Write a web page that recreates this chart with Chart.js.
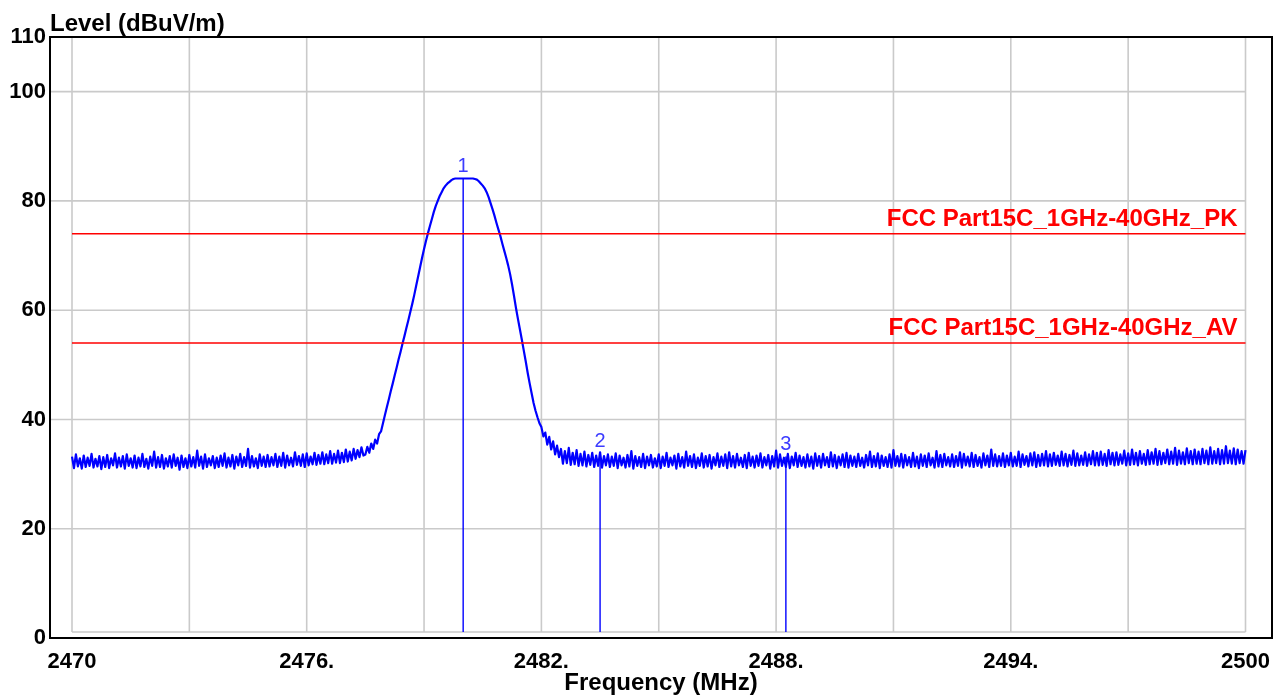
<!DOCTYPE html>
<html><head><meta charset="utf-8">
<script src="https://cdn.jsdelivr.net/npm/chart.js@4/dist/chart.umd.min.js"></script>
<style>html,body{margin:0;padding:0;background:#fff;}canvas{display:block;}</style>
</head><body>
<canvas id="c" width="1287" height="698"></canvas>
<script>
// ---- data ----
const freqStep = 0.05;
const segmentStarts = [2470.0, 2477.5, 2482.5];
const levelNoiseLow = [
33.2,31.1,33.6,31.4,32.9,31.0,33.4,31.3,33.0,31.5,33.7,31.2,32.8,31.4,33.3,30.9,33.1,31.3,33.5,31.1,32.9,31.6,33.8,31.2,33.0,
31.4,33.3,31.0,33.6,31.5,32.9,31.2,33.4,31.1,33.0,31.4,33.7,31.3,32.8,31.0,33.2,31.5,34.1,31.2,33.1,31.3,33.5,31.0,32.9,31.4,
33.3,31.2,33.6,31.5,33.0,30.8,33.4,31.3,32.9,31.1,33.5,31.4,33.1,31.2,34.3,31.5,33.2,31.0,33.6,31.3,32.9,31.6,33.3,31.1,33.0,
31.3,33.4,31.5,33.8,31.2,33.0,31.4,33.5,31.0,33.2,31.6,33.7,31.3,33.1,31.5,34.6,31.2,33.3,31.4,32.9,31.1,33.6,31.5,33.2,31.3,
33.5,31.4,33.1,31.6,33.7,31.3,33.2,31.5,33.9,31.2,33.4,31.6,33.0,31.4,34.0,31.7,33.3,31.5,33.6,31.3,33.8,31.6,33.2,31.8,33.9,
31.7,33.5,31.9,34.0,31.8,33.6,32.0,34.2,31.9,33.7,32.1,34.3,32.0,33.9,32.2,34.5,32.3,34.1,32.5,34.6,32.8,34.4,33.1,34.9,33.4
];
const levelSignal = [
33.6,35.0,33.9,35.6,34.6,36.3,35.6,37.3,37.8,39.3,
40.8,42.3,43.7,45.2,46.6,48.1,49.5,51.0,52.4,53.9,
55.3,56.8,58.2,59.7,61.2,62.8,64.5,66.2,67.9,69.6,
71.2,72.7,74.1,75.4,76.7,78.0,79.1,80.0,80.9,81.6,
82.3,82.8,83.2,83.5,83.8,84.0,84.1,84.1,84.1,84.1,
84.1,84.1,84.1,84.1,84.1,84.1,84.0,83.9,83.6,83.2,
82.8,82.3,81.6,80.7,79.6,78.5,77.3,76.0,74.8,73.6,
72.2,70.9,69.6,68.2,66.6,64.7,62.6,60.4,58.4,56.5,
54.6,52.6,50.6,48.5,46.6,44.8,43.0,41.6,40.4,39.3,
38.6,36.9,37.6,35.4,36.8,34.5,36.0,33.6,35.2,33.1
];
const levelNoiseHigh = [
34.6,31.9,34.2,32.0,34.8,31.7,33.9,31.8,34.4,31.5,33.7,31.6,34.1,31.4,33.5,31.7,33.9,31.3,33.4,31.5,34.0,31.2,33.3,31.6,33.6,
31.3,33.2,31.5,33.8,31.1,33.4,31.6,33.0,31.2,33.5,31.4,34.2,31.0,33.3,31.5,33.1,31.3,33.7,31.1,33.2,31.6,33.5,31.2,32.9,31.4,
33.6,31.1,33.2,31.5,33.9,31.3,33.0,31.6,33.4,31.0,33.7,31.4,33.1,31.2,34.1,31.5,33.3,31.3,33.6,31.1,33.0,31.5,33.8,31.2,33.3,
31.4,33.5,31.0,33.1,31.6,33.8,31.3,33.2,31.5,33.6,31.1,34.0,31.4,33.3,31.2,33.7,31.6,33.0,31.3,33.5,31.1,33.9,31.5,33.2,31.2,
33.4,31.5,33.8,31.2,33.1,31.6,33.5,31.0,33.3,31.4,34.3,31.2,33.6,31.5,33.0,31.3,33.7,31.1,33.2,31.6,33.9,31.3,33.4,31.5,33.1,
31.2,33.6,31.4,33.2,31.0,33.8,31.5,33.3,31.2,33.7,31.6,33.1,31.3,34.0,31.4,33.5,31.1,33.2,31.6,33.6,31.3,33.9,31.2,33.4,31.5,
33.2,31.3,33.7,31.5,33.0,31.2,33.5,31.6,34.1,31.3,33.3,31.4,33.8,31.1,33.4,31.5,33.1,31.3,33.6,31.2,34.4,31.5,33.3,31.4,33.7,
31.2,33.5,31.6,33.1,31.3,33.9,31.4,33.2,31.1,33.6,31.5,33.4,31.3,33.8,31.6,33.0,31.2,34.2,31.4,33.5,31.3,33.7,31.6,33.1,31.4,
33.6,31.3,33.3,31.5,34.0,31.2,33.7,31.6,33.2,31.4,33.9,31.3,33.5,31.5,33.1,31.2,33.8,31.6,33.4,31.3,34.5,31.5,33.6,31.4,33.3,
31.5,33.8,31.3,33.4,31.6,33.9,31.4,33.2,31.5,34.1,31.3,33.6,31.7,33.3,31.4,33.8,31.6,34.0,31.3,33.5,31.5,33.7,31.6,34.2,31.4,
33.6,31.5,33.9,31.7,33.4,31.5,34.1,31.6,33.7,31.4,33.5,31.7,34.3,31.5,33.8,31.6,33.4,31.7,34.0,31.5,33.6,31.8,34.2,31.6,33.9,
31.6,34.1,31.7,33.7,31.5,34.4,31.8,33.9,31.6,34.0,31.7,33.6,31.9,34.3,31.6,33.8,31.7,34.5,31.8,33.9,31.6,34.2,31.9,33.7,31.7,
34.4,31.8,34.0,31.9,34.6,31.7,34.2,31.8,33.9,32.0,34.5,31.8,34.1,31.9,34.8,31.7,34.3,31.9,34.0,31.8,34.7,32.0,34.2,31.8,34.5,
31.9,34.1,31.8,34.6,32.0,34.3,31.8,34.9,31.9,34.2,32.0,34.6,31.8,34.4,31.9,35.1,32.0,34.3,31.9,34.7,31.8,34.5,32.0,34.2,31.9,
34.4
];
const xTickValues = [2470,2473,2476,2479,2482,2485,2488,2491,2494,2497,2500];
const xTickLabels = ['2470','','2476.','','2482.','','2488.','','2494.','','2500'];
const yTickValues = [0,20,40,60,80,100,110];
const yGridValues = [20,40,60,80,100];
const gridFloor = 1.1;
const limitNames = ['FCC Part15C_1GHz-40GHz_PK','FCC Part15C_1GHz-40GHz_AV'];
const limitLevels = [74, 54];
const markerNames = ['1','2','3'];
const markerFreqs = [2480.0, 2483.5, 2488.25];
const markerLevels = [84.1, 33.6, 33.2];

// ---- build ----
const traceData = [];
[levelNoiseLow, levelSignal, levelNoiseHigh].forEach((seg, s) => {
  seg.forEach((v, i) => traceData.push({x: segmentStarts[s] + i * freqStep, y: v}));
});
const xFirst = xTickValues[0], xLast = xTickValues[xTickValues.length - 1];

const datasets = [];
limitLevels.forEach((lv) => datasets.push({
  data: [{x: xFirst, y: lv}, {x: xLast, y: lv}],
  borderColor: '#ff0000', borderWidth: 1.5, pointRadius: 0
}));
markerFreqs.forEach((f, i) => datasets.push({
  data: [{x: f, y: gridFloor}, {x: f, y: markerLevels[i]}],
  borderColor: '#0000ff', borderWidth: 1.4, pointRadius: 0
}));
datasets.push({data: traceData, borderColor: '#0000ff', borderWidth: 2.2, pointRadius: 0, borderJoinStyle: 'round'});

const FONT = '"Liberation Sans", Arial, sans-serif';

const decor = {
  id: 'decor',
  beforeDatasetsDraw(chart) {
    const {ctx, chartArea: a, scales: {x, y}} = chart;
    ctx.save();
    ctx.strokeStyle = '#cacaca';
    ctx.lineWidth = 1.6;
    const yb = y.getPixelForValue(gridFloor);
    const xl = x.getPixelForValue(xFirst), xr = x.getPixelForValue(xLast);
    ctx.beginPath();
    xTickValues.forEach(v => { const px = x.getPixelForValue(v); ctx.moveTo(px, a.top); ctx.lineTo(px, yb); });
    yGridValues.forEach(v => { const py = y.getPixelForValue(v); ctx.moveTo(a.left, py); ctx.lineTo(xr, py); });
    ctx.moveTo(xl, yb); ctx.lineTo(xr, yb);
    ctx.stroke();
    ctx.restore();
  },
  afterDatasetsDraw(chart) {
    const {ctx, chartArea: a, scales: {x, y}} = chart;
    ctx.save();
    ctx.fillStyle = '#ff0000';
    ctx.font = 'bold 24px ' + FONT;
    ctx.textAlign = 'right';
    ctx.textBaseline = 'alphabetic';
    limitLevels.forEach((lv, i) => {
      ctx.fillText(limitNames[i], x.getPixelForValue(xLast) - 8, y.getPixelForValue(lv) - 8);
    });
    ctx.fillStyle = '#3c3cff';
    ctx.font = '20px ' + FONT;
    ctx.textAlign = 'center';
    markerFreqs.forEach((f, i) => {
      ctx.fillText(markerNames[i], x.getPixelForValue(f), y.getPixelForValue(markerLevels[i]) - 7);
    });
    ctx.strokeStyle = '#000';
    ctx.lineWidth = 2;
    ctx.strokeRect(a.left, a.top, a.right - a.left, a.bottom - a.top);
    ctx.fillStyle = '#000';
    ctx.font = 'bold 24px ' + FONT;
    ctx.textAlign = 'left';
    ctx.fillText('Level (dBuV/m)', a.left, 31);
    ctx.restore();
  }
};

new Chart(document.getElementById('c'), {
  type: 'line',
  data: {datasets},
  options: {
    responsive: false,
    animation: false,
    devicePixelRatio: 1,
    layout: {padding: {top: 37, right: 15, left: 0, bottom: 0}},
    elements: {line: {tension: 0}},
    plugins: {legend: {display: false}, tooltip: {enabled: false}, title: {display: false}},
    scales: {
      x: {
        type: 'linear',
        min: xFirst - 22 / 39.117,
        max: xLast + 26.5 / 39.117,
        grid: {display: false, drawTicks: false},
        border: {display: false},
        afterBuildTicks: s => { s.ticks = xTickValues.map(v => ({value: v})); },
        afterFit: s => { s.height = 60; },
        ticks: {
          autoSkip: false, maxRotation: 0, padding: 11,
          color: '#000', font: {family: FONT, size: 22, weight: 'bold'},
          callback: (v) => { const i = xTickValues.indexOf(v); return i >= 0 ? xTickLabels[i] : ''; }
        },
        title: {display: true, text: 'Frequency (MHz)', color: '#000', font: {family: FONT, size: 24, weight: 'bold'}, padding: 0}
      },
      y: {
        type: 'linear', min: 0, max: 110,
        grid: {display: false, drawTicks: false},
        border: {display: false},
        afterBuildTicks: s => { s.ticks = yTickValues.map(v => ({value: v})); },
        afterFit: s => { s.width = 50; },
        ticks: {padding: 4, color: '#000', font: {family: FONT, size: 22, weight: 'bold'}}
      }
    }
  },
  plugins: [decor]
});
</script>
</body></html>
